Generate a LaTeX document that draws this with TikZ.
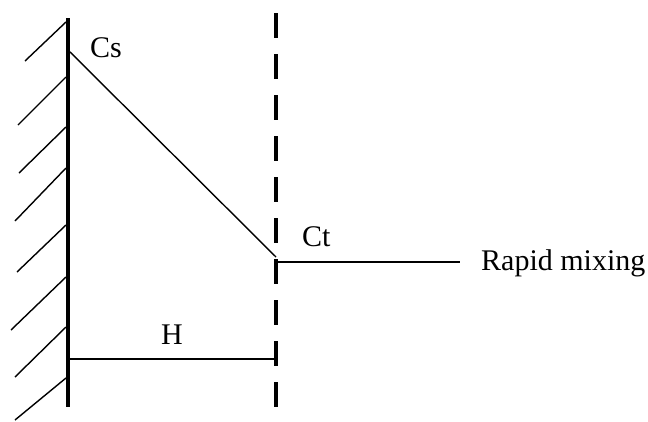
\documentclass[tikz,border=0pt]{standalone}
\usepackage{fontspec}
\setmainfont{Liberation Serif}

\begin{document}
\begin{tikzpicture}[
    x=1pt, y=-1pt,
    wall/.style={line width=4pt, black},
    film/.style={line width=4pt, black, dash pattern=on 25pt off 16pt},
    hatch/.style={line width=1.4pt, black},
    conc/.style={line width=1.4pt, black},
    lbl/.style={font=\fontsize{30}{35}\selectfont, inner sep=0pt},
]
\useasboundingbox (0,0) rectangle (648,421);

% ════════════════════════════════════════
% Wall with hatching
% ════════════════════════════════════════
\coordinate (walltop) at (68,18);
\coordinate (wallbot) at (68,407);
\draw[wall] (walltop) -- (wallbot);

\foreach \yt/\xb/\yb [count=\i] in {22/25/61, 77/18/125, 127/19/173, 168/15/221,
                                    225/17/272, 277/11/330, 327/15/377, 378/15/420} {
    \coordinate (h\i) at (66,\yt);
    \coordinate (hb\i) at (\xb,\yb);
    \draw[hatch] (h\i) -- (hb\i);
}

% ════════════════════════════════════════
% Film edge (dashed)
% ════════════════════════════════════════
\coordinate (filmtop) at (276,13);
\coordinate (filmbot) at (276,407);
\draw[film] (filmtop) -- (filmbot);

% ════════════════════════════════════════
% Concentration profile
% ════════════════════════════════════════
\coordinate (cs) at (68,50);
\coordinate (ct) at (276,257);
\coordinate (bulk0) at (276,262);
\coordinate (bulk) at (460,262);
\draw[conc] (cs) -- (ct);
\draw[conc] (bulk0) -- (bulk);

\node[lbl, anchor=base west] (cslbl) at (90,57) {Cs};
\node[lbl, anchor=base west] (ctlbl) at (302,246) {Ct};
\node[lbl, anchor=base west] (mixlbl) at (481,270) {Rapid mixing};

% ════════════════════════════════════════
% Film thickness H
% ════════════════════════════════════════
\coordinate (hl) at (68,359);
\coordinate (hr) at (276,359);
\draw[conc] (hl) -- (hr);
\node[lbl, anchor=base] (hlbl) at (172,344) {H};

\end{tikzpicture}
\end{document}
